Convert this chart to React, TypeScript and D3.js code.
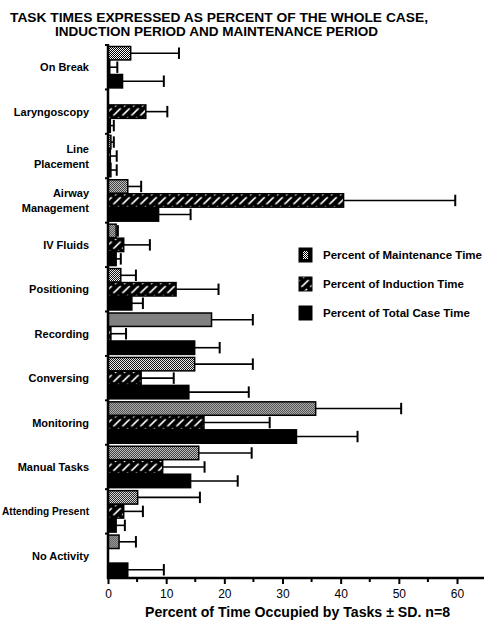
import React, { useRef, useEffect } from "react";
import * as d3 from "d3";

// task categories, top to bottom
const categories = [
  "On Break",
  "Laryngoscopy",
  "Line|Placement",
  "Airway|Management",
  "IV Fluids",
  "Positioning",
  "Recording",
  "Conversing",
  "Monitoring",
  "Manual Tasks",
  "Attending Present",
  "No Activity",
];

const seriesNames = [
  "Percent of Maintenance Time",
  "Percent of Induction Time",
  "Percent of Total Case Time",
];

// means (% of time)
const maintenanceMean = [3.9, 0, 0.5, 3.4, 1.4, 2.2, 17.8, 14.9, 35.7, 15.6, 5.1, 1.9];
const inductionMean = [0.3, 6.5, 0.4, 40.5, 2.7, 11.7, 0.5, 5.7, 16.5, 9.4, 2.7, 0];
const totalMean = [2.5, 0.4, 0.5, 8.7, 1.4, 4.1, 14.9, 13.9, 32.4, 14.2, 1.4, 3.4];

// standard deviations
const maintenanceSD = [8.3, 0, 0.5, 2.3, 0.3, 2.6, 7.1, 10.0, 14.7, 9.1, 10.7, 2.9];
const inductionSD = [1.3, 3.7, 1.1, 19.2, 4.5, 7.3, 2.6, 5.6, 11.3, 7.2, 3.3, 0];
const totalSD = [7.1, 0.6, 1.0, 5.5, 0.8, 1.9, 4.3, 10.3, 10.5, 8.1, 1.5, 6.2];

const xTicks = [0, 10, 20, 30, 40, 50, 60];
const xMinorTicks = [5, 15, 25, 35, 45, 55];

const FONT = "'Liberation Sans', Arial, Helvetica, sans-serif";

export default function App() {
  const svgRef = useRef(null);

  const width = 484;
  const height = 620;

  useEffect(() => {
    const svg = d3.select(svgRef.current);
    svg.selectAll("*").remove(); //clear

    const means = [maintenanceMean, inductionMean, totalMean];
    const sds = [maintenanceSD, inductionSD, totalSD];
    const fills = ["url(#pat-maint)", "url(#pat-induct)", "#000"];

    // patterns
    const defs = svg.append("defs");
    const pm = defs
      .append("pattern")
      .attr("id", "pat-maint")
      .attr("patternUnits", "userSpaceOnUse")
      .attr("width", 2)
      .attr("height", 2);
    pm.append("rect").attr("width", 2).attr("height", 2).attr("fill", "#fff");
    pm.append("rect").attr("width", 1).attr("height", 1).attr("fill", "#000");
    pm.append("rect").attr("x", 1).attr("y", 1).attr("width", 1).attr("height", 1).attr("fill", "#000");

    const pi = defs
      .append("pattern")
      .attr("id", "pat-induct")
      .attr("patternUnits", "userSpaceOnUse")
      .attr("width", 9)
      .attr("height", 9)
      .attr("patternTransform", "skewX(-10)");
    pi.append("rect").attr("width", 9).attr("height", 9).attr("fill", "#000");
    pi.append("path")
      .attr("d", "M1,8 L7,1")
      .attr("stroke", "#fff")
      .attr("stroke-width", 1.8);

    // scales
    const x = d3.scaleLinear().domain([0, 60]).range([108, 457]);
    const y = d3.scaleBand().domain(categories).range([45, 578]).paddingInner(0);
    const ySub = d3
      .scaleBand()
      .domain(d3.range(3))
      .range([1.5, y.bandwidth() - 1.5])
      .paddingInner(0.04);

    // bars + error bars
    categories.forEach((cat, ci) => {
      const g = svg.append("g").attr("transform", `translate(0, ${y(cat)})`);
      for (let s = 0; s < 3; s++) {
        const m = means[s][ci];
        const sd = sds[s][ci];
        const y0 = ySub(s);
        const bh = ySub.bandwidth();
        if (sd > 0) {
          g.append("line")
            .attr("x1", x(m))
            .attr("x2", x(m + sd))
            .attr("y1", y0 + bh / 2)
            .attr("y2", y0 + bh / 2)
            .attr("stroke", "#000")
            .attr("stroke-width", 1.6);
          g.append("line")
            .attr("x1", x(m + sd))
            .attr("x2", x(m + sd))
            .attr("y1", y0 + 1)
            .attr("y2", y0 + bh - 1)
            .attr("stroke", "#000")
            .attr("stroke-width", 2);
        }
        if (m > 0) {
          g.append("rect")
            .attr("x", x(0))
            .attr("y", y0)
            .attr("width", x(m) - x(0))
            .attr("height", bh)
            .attr("fill", fills[s])
            .attr("stroke", "#000")
            .attr("stroke-width", 1.5);
        }
      }
    });

    // y axis
    svg.append("line")
      .attr("x1", x(0))
      .attr("x2", x(0))
      .attr("y1", 44)
      .attr("y2", 579)
      .attr("stroke", "#000")
      .attr("stroke-width", 2.5);
    svg.selectAll(".ytick")
      .data(categories)
      .enter()
      .append("line")
      .attr("x1", x(0) - 3)
      .attr("x2", x(0))
      .attr("y1", (d) => y(d))
      .attr("y2", (d) => y(d))
      .attr("stroke", "#000")
      .attr("stroke-width", 2);

    // category labels
    categories.forEach((cat) => {
      const lines = cat.split("|");
      const cy = y(cat) + y.bandwidth() / 2;
      const t = svg
        .append("text")
        .attr("x", 89)
        .attr("text-anchor", "end")
        .attr("font-family", FONT)
        .attr("font-weight", "bold")
        .attr("font-size", 11)
        .attr("fill", "#000");
      // the long one gets squeezed so it stays on the page
      if (cat === "Attending Present") {
        t.attr("textLength", 87).attr("lengthAdjust", "spacingAndGlyphs");
      }
      lines.forEach((ln, i) => {
        t.append("tspan")
          .attr("x", 89)
          .attr("y", cy + 4 + (i - (lines.length - 1) / 2) * 15)
          .text(ln);
      });
    });

    // x axis
    const axisY = 578;
    svg.append("line")
      .attr("x1", x(0) - 1)
      .attr("x2", 484)
      .attr("y1", axisY)
      .attr("y2", axisY)
      .attr("stroke", "#000")
      .attr("stroke-width", 2.5);
    const xAxis = d3.axisBottom(x).tickValues(xTicks).tickSize(6).tickFormat(d3.format("d"));
    const ax = svg.append("g").attr("transform", `translate(0, ${axisY})`).call(xAxis);
    ax.select(".domain").remove();
    ax.selectAll(".tick line").attr("stroke-width", 2);
    ax.selectAll(".tick text")
      .attr("y", 11)
      .attr("font-family", FONT)
      .attr("font-size", 12)
      .attr("fill", "#000");
    svg.selectAll(".minor")
      .data(xMinorTicks)
      .enter()
      .append("line")
      .attr("x1", (d) => x(d))
      .attr("x2", (d) => x(d))
      .attr("y1", axisY)
      .attr("y2", axisY + 4)
      .attr("stroke", "#000")
      .attr("stroke-width", 2);

    svg.append("text")
      .attr("x", 145)
      .attr("y", 617)
      .attr("textLength", 305)
      .attr("lengthAdjust", "spacingAndGlyphs")
      .attr("font-family", FONT)
      .attr("font-weight", "bold")
      .attr("font-size", 14)
      .text("Percent of Time Occupied by Tasks \u00b1 SD.  n=8");

    // title
    svg.append("text")
      .attr("x", 10)
      .attr("y", 21.5)
      .attr("textLength", 418)
      .attr("lengthAdjust", "spacingAndGlyphs")
      .attr("font-family", FONT)
      .attr("font-weight", "bold")
      .attr("font-size", 12.5)
      .text("TASK TIMES EXPRESSED AS PERCENT OF THE WHOLE CASE,");
    svg.append("text")
      .attr("x", 55)
      .attr("y", 35.5)
      .attr("textLength", 323)
      .attr("lengthAdjust", "spacingAndGlyphs")
      .attr("font-family", FONT)
      .attr("font-weight", "bold")
      .attr("font-size", 12.5)
      .text("INDUCTION PERIOD AND MAINTENANCE PERIOD");

    // legend
    const legendY = [248, 277, 306];
    const legendW = [159, 141, 147];
    seriesNames.forEach((name, i) => {
      svg.append("rect")
        .attr("x", 299)
        .attr("y", legendY[i])
        .attr("width", 13)
        .attr("height", 14)
        .attr("fill", i === 0 ? "#000" : fills[i])
        .attr("stroke", "#000")
        .attr("stroke-width", 1);
      if (i === 0) {
        svg.append("rect")
          .attr("x", 303)
          .attr("y", legendY[i] + 3)
          .attr("width", 5)
          .attr("height", 8)
          .attr("fill", "url(#pat-maint)");
      }
      svg.append("text")
        .attr("x", 323)
        .attr("y", legendY[i] + 11)
        .attr("textLength", legendW[i])
        .attr("lengthAdjust", "spacingAndGlyphs")
        .attr("font-family", FONT)
        .attr("font-weight", "bold")
        .attr("font-size", 10.5)
        .text(name);
    });
  }, []);

  return (
    <div>
      <svg
        ref={svgRef}
        width={width}
        height={height}
        style={{ position: "absolute", left: 0, top: 0, background: "#fff" }}
      ></svg>
    </div>
  );
}
